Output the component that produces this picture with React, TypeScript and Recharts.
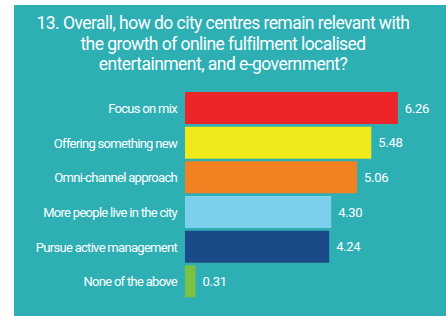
import React from 'react';
import { BarChart, Bar, XAxis, YAxis, LabelList, Cell } from 'recharts';

const categories = [
  'Focus on mix',
  'Offering something new',
  'Omni-channel approach',
  'More people live in the city',
  'Pursue active management',
  'None of the above',
];
const scores = [6.26, 5.48, 5.06, 4.3, 4.24, 0.31];
const barColors = ['#ED2529', '#F1EA1B', '#F28122', '#7DD0EC', '#1B4A89', '#7DC142'];
const titleLines = [
  '13. Overall, how do city centres remain relevant with',
  'the growth of online fulfilment localised',
  'entertainment, and e-government?',
];

const data = categories.map((name, i) => ({ name, score: scores[i] }));

const FONT = 'Roboto, "Liberation Sans", sans-serif';

const App: React.FC = () => {
  return (
    <div style={{ position: 'absolute', left: 0, top: 0, width: 446, height: 316, background: '#fff', overflow: 'hidden' }}>
      <div style={{ position: 'absolute', left: 14, top: 5, width: 432, height: 311, background: '#2DAFB4' }} />
      <div
        style={{
          position: 'absolute',
          left: 14,
          top: 13,
          width: 418,
          textAlign: 'center',
          color: '#fff',
          fontFamily: FONT,
          fontSize: 17.5,
          letterSpacing: -0.55,
          lineHeight: '20.5px',
          whiteSpace: 'nowrap',
        }}
      >
        {titleLines.map((l) => (
          <div key={l}>{l}</div>
        ))}
      </div>
      <div style={{ position: 'absolute', left: 0, top: 0 }}>
        <BarChart
          width={446}
          height={316}
          layout="vertical"
          data={data}
          margin={{ top: 91, right: 23, bottom: 17, left: 0 }}
        >
          <XAxis type="number" domain={[0, 7]} hide />
          <YAxis
            type="category"
            dataKey="name"
            width={185}
            axisLine={false}
            tickLine={false}
            tick={{ fill: '#fff', fontSize: 13, fontFamily: FONT, letterSpacing: -0.7 }}
          />
          <Bar dataKey="score" barSize={32} isAnimationActive={false}>
            {data.map((d, i) => (
              <Cell key={d.name} fill={barColors[i]} />
            ))}
            <LabelList
              dataKey="score"
              position="right"
              offset={7}
              formatter={(v: number) => v.toFixed(2)}
              style={{ fill: '#fff', fontSize: 13, fontFamily: FONT, letterSpacing: -0.3 }}
            />
          </Bar>
        </BarChart>
      </div>
    </div>
  );
};

export default App;
